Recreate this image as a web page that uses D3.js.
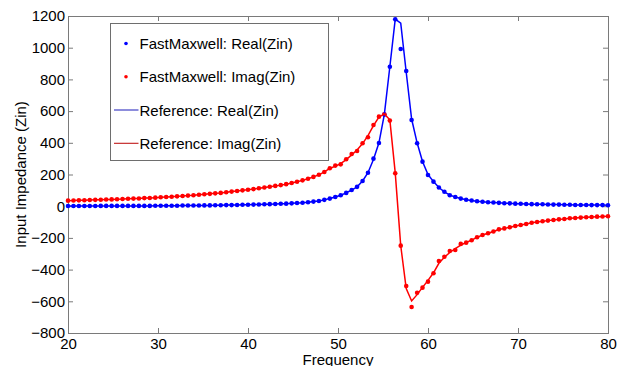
<!DOCTYPE html>
<html>
<head>
<meta charset="utf-8">
<script src="https://cdn.jsdelivr.net/npm/d3@7/dist/d3.min.js"></script>
<style>
  body { margin: 0; background: #fff; }
  svg { display: block; font-family: "Liberation Sans", Arial, sans-serif; }
</style>
</head>
<body>
<div id="chart"></div>
<script>
"use strict";

// frequency grid (20..80, 100 samples)
const freq = [
  20.00, 20.61, 21.21, 21.82, 22.42, 23.03, 23.64, 24.24, 24.85, 25.45,
  26.06, 26.67, 27.27, 27.88, 28.48, 29.09, 29.70, 30.30, 30.91, 31.52,
  32.12, 32.73, 33.33, 33.94, 34.55, 35.15, 35.76, 36.36, 36.97, 37.58,
  38.18, 38.79, 39.39, 40.00, 40.61, 41.21, 41.82, 42.42, 43.03, 43.64,
  44.24, 44.85, 45.45, 46.06, 46.67, 47.27, 47.88, 48.48, 49.09, 49.70,
  50.30, 50.91, 51.52, 52.12, 52.73, 53.33, 53.94, 54.55, 55.15, 55.76,
  56.36, 56.97, 57.58, 58.18, 58.79, 59.39, 60.00, 60.61, 61.21, 61.82,
  62.42, 63.03, 63.64, 64.24, 64.85, 65.45, 66.06, 66.67, 67.27, 67.88,
  68.48, 69.09, 69.70, 70.30, 70.91, 71.52, 72.12, 72.73, 73.33, 73.94,
  74.55, 75.15, 75.76, 76.36, 76.97, 77.58, 78.18, 78.79, 79.39, 80.00
];

// FastMaxwell samples
const fmReal = [
  1, 1, 1, 1, 1, 1, 2, 2, 2, 2,
  2, 2, 2, 2, 2, 2, 3, 3, 3, 3,
  3, 4, 4, 4, 4, 5, 5, 6, 6, 7,
  7, 8, 9, 9, 10, 11, 12, 13, 14, 15,
  16, 18, 20, 22, 25, 29, 33, 40, 48, 58,
  69, 84, 102, 122, 159, 211, 300, 399, 578, 880,
  1179, 992, 853, 544, 397, 281, 197, 155, 118, 91,
  69, 58, 48, 41, 36, 31, 28, 25, 23, 21,
  19, 18, 16, 15, 14, 13, 12, 12, 11, 10,
  10, 9, 9, 8, 8, 8, 7, 7, 7, 6
];
const fmImag = [
  35, 36, 37, 38, 39, 40, 41, 42, 43, 44,
  45, 47, 48, 49, 51, 52, 54, 56, 58, 60,
  62, 64, 67, 69, 72, 75, 78, 81, 84, 88,
  92, 96, 100, 104, 108, 113, 118, 123, 128, 133,
  139, 146, 154, 163, 173, 185, 198, 216, 239, 256,
  264, 296, 329, 348, 397, 435, 512, 565, 580, 540,
  208, -249, -503, -636, -546, -514, -476, -423, -346, -319,
  -283, -276, -238, -230, -215, -196, -182, -171, -160, -146,
  -140, -133, -125, -119, -112, -104, -100, -95, -91, -87,
  -83, -81, -76, -74, -72, -70, -68, -66, -65, -63
];

// reference solution
const refReal = [
  1, 1, 1, 1, 1, 1, 2, 2, 2, 2,
  2, 2, 2, 2, 2, 2, 3, 3, 3, 3,
  3, 4, 4, 4, 4, 5, 5, 6, 6, 7,
  7, 8, 9, 9, 10, 11, 12, 13, 14, 15,
  16, 18, 20, 22, 25, 29, 33, 40, 48, 58,
  69, 84, 102, 122, 159, 211, 295, 400, 580, 880,
  1180, 1155, 845, 550, 400, 282, 200, 155, 118, 91,
  70, 58, 48, 41, 36, 31, 28, 25, 23, 21,
  19, 18, 16, 15, 14, 13, 12, 12, 11, 10,
  10, 9, 9, 8, 8, 8, 7, 7, 7, 6
];
const refImag = [
  35, 36, 37, 38, 39, 40, 41, 42, 43, 44,
  45, 47, 48, 49, 51, 52, 54, 56, 58, 60,
  62, 64, 67, 69, 72, 75, 78, 81, 84, 88,
  92, 96, 100, 104, 108, 113, 118, 123, 128, 133,
  139, 146, 154, 163, 173, 185, 198, 216, 239, 252,
  268, 294, 324, 355, 395, 445, 508, 562, 582, 545,
  210, -249, -520, -598, -558, -512, -468, -420, -360, -322,
  -292, -268, -246, -229, -214, -197, -182, -171, -160, -147,
  -140, -133, -125, -119, -112, -104, -100, -95, -91, -87,
  -83, -81, -76, -74, -72, -70, -68, -66, -65, -63
];

const xTicks = [20, 30, 40, 50, 60, 70, 80];
const yTicks = [-800, -600, -400, -200, 0, 200, 400, 600, 800, 1000, 1200];

const legendLabels = [
  "FastMaxwell: Real(Zin)",
  "FastMaxwell: Imag(Zin)",
  "Reference: Real(Zin)",
  "Reference: Imag(Zin)"
];

const width = 623;
const height = 366;
const plotLeft = 68, plotRight = 608, plotTop = 16, plotBottom = 333;
const axisColor = "#7a7a7a";

const svg = d3.select("#chart")
  .append("svg")
  .attr("width", width)
  .attr("height", height)
;

const xScale = d3.scaleLinear().domain([20, 80]).range([plotLeft, plotRight]);
const yScale = d3.scaleLinear().domain([-800, 1200]).range([plotBottom, plotTop]);

// box
svg.append("rect")
  .attr("x", plotLeft + 0.5)
  .attr("y", plotTop + 0.5)
  .attr("width", plotRight - plotLeft)
  .attr("height", plotBottom - plotTop)
  .attr("fill", "#fff")
  .attr("stroke", axisColor)
;

const styleAxis = g => {
  g.select(".domain").remove();
  g.selectAll(".tick line").attr("stroke", axisColor);
  g.selectAll(".tick text")
    .attr("fill", "#000")
    .style("font-size", "15px")
    .style("font-family", "'Liberation Sans', Arial, sans-serif");
};

const fmt = d3.format("d");

svg.append("g")
  .attr("transform", `translate(0, ${plotBottom})`)
  .call(d3.axisBottom(xScale).tickValues(xTicks).tickFormat(fmt).tickSizeInner(-5).tickSizeOuter(0).tickPadding(5.5))
  .call(styleAxis)
;
svg.append("g")
  .attr("transform", `translate(0, ${plotTop})`)
  .call(d3.axisTop(xScale).tickValues(xTicks).tickSizeInner(-5).tickSizeOuter(0).tickFormat(""))
  .call(styleAxis)
;
svg.append("g")
  .attr("transform", `translate(${plotLeft}, 0)`)
  .call(d3.axisLeft(yScale).tickValues(yTicks).tickFormat(fmt).tickSizeInner(-5).tickSizeOuter(0).tickPadding(3))
  .call(styleAxis)
;
svg.append("g")
  .attr("transform", `translate(${plotRight}, 0)`)
  .call(d3.axisRight(yScale).tickValues(yTicks).tickSizeInner(-5).tickSizeOuter(0).tickFormat(""))
  .call(styleAxis)
;

// axis titles
svg.append("text")
  .attr("x", (plotLeft + plotRight) / 2)
  .attr("y", 359)
  .attr("text-anchor", "middle")
  .attr("dominant-baseline", "central")
  .style("font-size", "15px")
  .text("Frequency")
;
svg.append("text")
  .attr("transform", `translate(20, ${(plotTop + plotBottom) / 2}) rotate(-90)`)
  .attr("text-anchor", "middle")
  .attr("dominant-baseline", "central")
  .style("font-size", "15px")
  .text("Input Impedance (Zin)")
;

const pts = vals => freq.map((f, i) => [f, vals[i]]);

const line = d3.line()
  .x(d => xScale(d[0]))
  .y(d => yScale(d[1]))
;

const plot = svg.append("g");

const series = [
  { vals: fmReal, color: "#0000ff" },
  { vals: fmImag, color: "#ff0000" }
];
series.forEach(s => {
  plot.append("g")
    .selectAll("circle")
    .data(pts(s.vals))
    .enter()
    .append("circle")
    .attr("cx", d => xScale(d[0]))
    .attr("cy", d => yScale(d[1]))
    .attr("r", 2.3)
    .attr("fill", s.color)
  ;
});

plot.append("path")
  .datum(pts(refReal))
  .attr("d", line)
  .attr("fill", "none")
  .attr("stroke", "#0000ff")
  .attr("stroke-width", 1.5)
;
plot.append("path")
  .datum(pts(refImag))
  .attr("d", line)
  .attr("fill", "none")
  .attr("stroke", "#ff0000")
  .attr("stroke-width", 1.5)
;

// legend
const legend = svg.append("g");
legend.append("rect")
  .attr("x", 110.5)
  .attr("y", 23.5)
  .attr("width", 218)
  .attr("height", 137)
  .attr("fill", "#fff")
  .attr("stroke", "#6e6e6e")
;
const rowY = [43.5, 76.8, 110, 143.3];
const legendColors = ["#0000ff", "#ff0000", "#3030c0", "#c01818"];
legendLabels.forEach((label, i) => {
  if (i < 2) {
    legend.append("circle")
      .attr("cx", 126)
      .attr("cy", rowY[i])
      .attr("r", 1.8)
      .attr("fill", legendColors[i])
    ;
  } else {
    legend.append("line")
      .attr("x1", 114)
      .attr("x2", 138.5)
      .attr("y1", rowY[i])
      .attr("y2", rowY[i])
      .attr("stroke", legendColors[i])
      .attr("stroke-width", 1.1)
    ;
  }
  legend.append("text")
    .attr("x", 139.5)
    .attr("y", rowY[i])
    .attr("dominant-baseline", "central")
    .style("font-size", "15px")
    .text(label)
  ;
});
</script>
</body>
</html>
